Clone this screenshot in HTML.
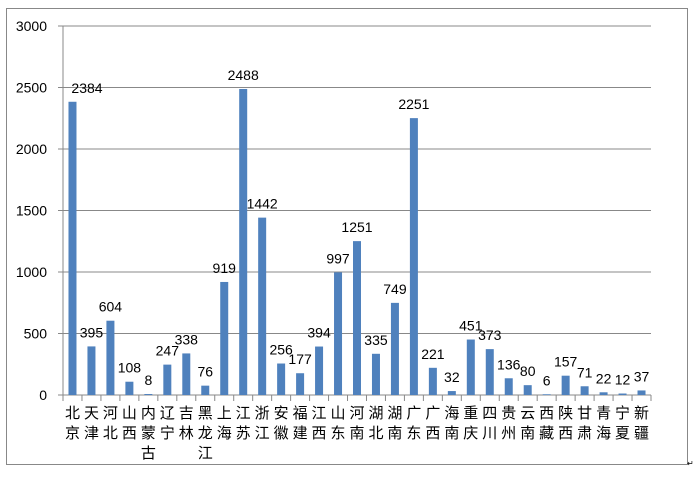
<!DOCTYPE html>
<html><head><meta charset="utf-8"><style>
body{margin:0;background:#fff;}
svg text{font-family:"Liberation Sans","Noto Sans CJK SC",sans-serif;fill:#000;}
</style></head><body>
<svg width="694" height="472" xmlns="http://www.w3.org/2000/svg">
<rect x="6.5" y="8.5" width="681" height="456" fill="#fff" stroke="#888" stroke-width="1"/>
<g id="g"></g>
</svg>
<script>
const names=["北京","天津","河北","山西","内蒙古","辽宁","吉林","黑龙江","上海","江苏","浙江","安徽","福建","江西","山东","河南","湖北","湖南","广东","广西","海南","重庆","四川","贵州","云南","西藏","陕西","甘肃","青海","宁夏","新疆"];
const vals=[2384,395,604,108,8,247,338,76,919,2488,1442,256,177,394,997,1251,335,749,2251,221,32,451,373,136,80,6,157,71,22,12,37];
const L=63,R=651,T=26,B=395,step=(R-L)/31,sc=(B-T)/3000;
let s='';
for(let i=0;i<=6;i++){const y=B-i*500*sc;
 if(i>0)s+=`<line x1="${L}" y1="${y}" x2="${R}" y2="${y}" stroke="#888" stroke-width="1"/>`;
 s+=`<line x1="${L-5}" y1="${y}" x2="${L}" y2="${y}" stroke="#888"/>`;
 s+=`<text x="${L-16}" y="${y+5}" font-size="14" text-anchor="end">${i*500}</text>`;}
s+=`<line x1="${L}" y1="${T}" x2="${L}" y2="${B}" stroke="#888"/>`;
s+=`<line x1="${L}" y1="${B}" x2="${R}" y2="${B}" stroke="#888"/>`;
for(let i=0;i<=31;i++){const x=L+i*step;s+=`<line x1="${x}" y1="${B}" x2="${x}" y2="${B+6}" stroke="#888"/>`;}
vals.forEach((v,i)=>{const cx=L+(i+0.5)*step,h=v*sc;
 s+=`<rect x="${cx-4}" y="${B-h}" width="8" height="${h}" fill="#4f81bd"/>`;
 let lx=cx;if(i==0)lx=87;
 s+=`<text x="${lx}" y="${B-h-9}" font-size="14" text-anchor="middle">${v}</text>`;
 [...names[i]].forEach((c,j)=>{s+=`<text x="${cx}" y="${418+j*20}" font-size="15" text-anchor="middle">${c}</text>`;});
});
s+=`<text x="687" y="466" font-size="8" fill="#888">↵</text>`;
document.getElementById('g').innerHTML=s;
</script>
</body></html>
